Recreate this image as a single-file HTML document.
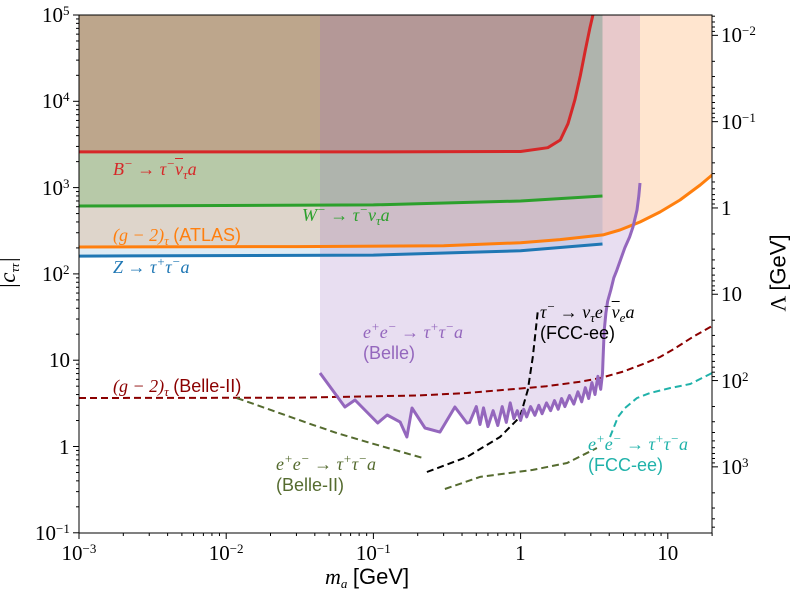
<!DOCTYPE html>
<html><head><meta charset="utf-8">
<style>
body{margin:0;background:#fff;}
#wrap{position:relative;width:800px;height:600px;overflow:hidden;font-family:"Liberation Serif",serif;}
svg{position:absolute;left:0;top:0;}
.lbl{position:absolute;white-space:nowrap;font-size:18px;line-height:21px;}
.it{font-style:italic;}
.sf{font-family:"Liberation Sans",sans-serif;font-style:normal;}
.tk{position:absolute;font-size:21px;white-space:nowrap;line-height:22px;color:#000;}
sup{font-size:13px;vertical-align:7px;line-height:0;}
sub{font-size:13px;vertical-align:-4px;line-height:0;}
.ob{text-decoration:overline;}
</style></head><body>
<div id="wrap">
<svg id="svg" width="800" height="600"></svg>

<div class="lbl it" style="left:113px;top:159px;color:#d62728">B<sup>−</sup> → τ<sup>−</sup><span class="ob">ν</span><sub>τ</sub>a</div>
<div class="lbl it" style="left:302px;top:205px;color:#2ca02c">W<sup>−</sup> → τ<sup>−</sup><span class="ob">ν</span><sub>τ</sub>a</div>
<div class="lbl" style="left:113px;top:225px;color:#ff7f0e"><span class="it">(g − 2)<sub>τ</sub></span> <span class="sf">(ATLAS)</span></div>
<div class="lbl it" style="left:113px;top:257px;color:#1f77b4">Z → τ<sup>+</sup>τ<sup>−</sup>a</div>
<div class="lbl" style="left:363px;top:322px;color:#9467bd"><span class="it">e<sup>+</sup>e<sup>−</sup> → τ<sup>+</sup>τ<sup>−</sup>a</span><br><span class="sf">(Belle)</span></div>
<div class="lbl" style="left:540px;top:302px;color:#000"><span class="it">τ<sup>−</sup> → ν<sub>τ</sub>e<sup>−</sup><span class="ob">ν</span><sub>e</sub>a</span><br><span class="sf">(FCC-ee)</span></div>
<div class="lbl" style="left:113px;top:376px;color:#8b0000"><span class="it">(g − 2)<sub>τ</sub></span> <span class="sf">(Belle-II)</span></div>
<div class="lbl" style="left:276px;top:454px;color:#556b2f"><span class="it">e<sup>+</sup>e<sup>−</sup> → τ<sup>+</sup>τ<sup>−</sup>a</span><br><span class="sf">(Belle-II)</span></div>
<div class="lbl" style="left:588px;top:434px;color:#20b2aa"><span class="it">e<sup>+</sup>e<sup>−</sup> → τ<sup>+</sup>τ<sup>−</sup>a</span><br><span class="sf">(FCC-ee)</span></div>

<div class="tk" style="left:325px;top:566px;font-size:22px"><span class="it">m<sub>a</sub></span> <span class="sf">[GeV]</span></div>
<div class="tk" style="left:-8px;top:262px;font-size:23px;transform:rotate(-90deg);transform-origin:center"><span class="it">|c<sub>ττ</sub>|</span></div>
<div class="tk" style="left:740px;top:262px;font-size:22px;transform:rotate(-90deg);transform-origin:center">Λ <span class="sf">[GeV]</span></div>
<div id="ticks"></div>
</div>
<script>
// ---- data ----
const xTickVals=[0.001,0.01,0.1,1,10];
const xTickLabels=["10<sup>−3</sup>","10<sup>−2</sup>","10<sup>−1</sup>","1","10"];
const yTickVals=[0.1,1,10,100,1000,10000,100000];
const yTickLabels=["10<sup>−1</sup>","1","10","10<sup>2</sup>","10<sup>3</sup>","10<sup>4</sup>","10<sup>5</sup>"];
const lamTickVals=[0.01,0.1,1,10,100,1000];
const lamTickLabels=["10<sup>−2</sup>","10<sup>−1</sup>","1","10","10<sup>2</sup>","10<sup>3</sup>"];
const lamScale=581;

const redM=[0.001,0.1,1,1.53,1.86,2.1,2.34,2.55,2.75,2.95,3.1];
const redC=[2590,2590,2620,2900,3560,5500,10400,20000,39000,70000,100000];
const greenM=[0.001,0.1,1,3.6];
const greenC=[612,630,700,800];
const orangeM=[0.001,0.03,0.3,1,1.85,3.63,4.73,6.47,8.85,12.1,16.6,20];
const orangeC=[205,207,212,230,250,283,323,399,521,718,1072,1400];
const blueM=[0.001,0.1,1,3.6];
const blueC=[161,165,185,222];
const belleM=[0.0434,0.064,0.075,0.107,0.124,0.152,0.169,0.183,0.224,0.283,0.358,0.432,0.45,0.5,0.53,0.56,0.6,0.65,0.7,0.75,0.8,0.85,0.9,0.95,1.0,1.05,1.1,1.17,1.25,1.33,1.4,1.5,1.6,1.7,1.8,1.9,2.0,2.15,2.3,2.45,2.6,2.75,2.9,3.05,3.2,3.35,3.5,3.6,3.63,3.7,3.8,3.9,4.1,4.3,4.5,4.8,5.1,5.5,5.8,6.18,6.35,6.47];
const belleC=[7.1,2.87,3.46,1.87,2.32,1.92,1.29,2.79,1.64,1.47,2.87,1.87,1.9,2.9,1.8,2.8,1.7,2.6,1.75,2.9,1.9,3.2,2.1,2.6,2.0,2.7,2.2,2.9,2.3,3.0,2.4,3.2,2.6,3.4,2.7,3.6,2.9,3.9,3.1,4.3,3.3,4.8,3.6,5.5,4.0,6.5,4.6,7,10,22,35,48,65,90,110,150,200,268,350,550,800,1130];
const fccTauM=[0.231,0.432,0.725,0.99,1.12,1.21,1.31];
const fccTauC=[0.506,0.755,1.29,2.2,4.52,10.9,38];
const g2M=[0.001,0.03,0.2,0.43,1,1.5,2.5,3.46,5,7,8.85,11,14.8,20];
const g2C=[3.65,3.68,3.9,4.17,4.7,5,5.6,6.2,7.4,9.2,10.9,13.5,18.6,24.9];
const b2aM=[0.0118,0.0389,0.0566,0.0949,0.217];
const b2aC=[3.65,1.78,1.43,1.10,0.736];
const b2bM=[0.306,0.53,1.21,2.07,3.3];
const b2bC=[0.322,0.444,0.535,0.644,0.962];
const fccM=[4.05,4.59,5.12,6.18,7.57,10.4,14.2,20];
const fccC=[1.29,2.2,2.79,3.65,4.17,4.76,5.3,7.1];

// ---- axes ----
const L=79,R=712,T=15,B=533;
const X=m=>L+(Math.log10(m)+3)*147.2;
const Y=c=>T+(5-Math.log10(c))*86.3;
const svg=document.getElementById('svg');
const NS='http://www.w3.org/2000/svg';
function mk(tag,attrs,parent){const e=document.createElementNS(NS,tag);for(const k in attrs)e.setAttribute(k,attrs[k]);(parent||svg).appendChild(e);return e;}
const defs=mk('defs',{});
const cp=mk('clipPath',{id:'clip'},defs);mk('rect',{x:L,y:T,width:R-L,height:B-T},cp);
const g=mk('g',{'clip-path':'url(#clip)'});
function pts(M,C){return M.map((m,i)=>X(m).toFixed(1)+','+Y(C[i]).toFixed(1));}
function fillAbove(M,C,col,op,name){
  const p=pts(M,C);p.push(X(M[M.length-1]).toFixed(1)+','+(T-5));p.push(X(M[0]).toFixed(1)+','+(T-5));
  const e=mk('polygon',{points:p.join(' '),fill:col,'fill-opacity':op},g);
  
  
}
function line(M,C,col,w,dash,name){
  const e=mk('polyline',{points:pts(M,C).join(' '),fill:'none',stroke:col,'stroke-width':w,'stroke-linejoin':'round'},g);
  if(dash)e.setAttribute('stroke-dasharray',dash);
  
  
}
fillAbove(orangeM,orangeC,'#ff7f0e',0.2,'atlas-region');
fillAbove(blueM,blueC,'#1f77b4',0.15,'z-region');
fillAbove(greenM,greenC,'#2ca02c',0.22,'w-region');
fillAbove(redM,redC,'#d62728',0.22,'b-region');
fillAbove(belleM,belleC,'#9467bd',0.22,'belle-region');
line(redM,redC,'#d62728',3,null,'b-decay-line');
line(greenM,greenC,'#2ca02c',3,null,'w-decay-line');
line(orangeM,orangeC,'#ff7f0e',3,null,'atlas-line');
line(blueM,blueC,'#1f77b4',3,null,'z-decay-line');
line(g2M,g2C,'#8b0000',2,'7,4','g2-belle2-line');
line(b2aM,b2aC,'#556b2f',2,'7,4','belle2-line-a');
line(b2bM,b2bC,'#556b2f',2,'7,4','belle2-line-b');
line(fccM,fccC,'#20b2aa',2,'7,4','fcc-ee-line');
line(fccTauM,fccTauC,'#000',2,'7,4','fcc-tau-line');
line(belleM,belleC,'#9467bd',3,null,'belle-line');

const fr=mk('rect',{x:L,y:T,width:R-L,height:B-T,fill:'none',stroke:'#000','stroke-width':1});


// ticks
const tk=document.getElementById('ticks');
function addLabel(html,x,y,align,name){
  const d=document.createElement('div');d.className='tk';d.innerHTML=html;
  
  
  tk.appendChild(d);
  const w=d.offsetWidth,h=d.offsetHeight;
  let lx=align==='center'?x-w/2:(align==='right'?x-w:x);
  d.style.left=lx+'px';d.style.top=(y-h/2)+'px';
}
for(let d=-3;d<=1;d++)for(let k=1;k<10;k++){const m=k*Math.pow(10,d);if(m>20.01)continue;const x=X(m);mk('line',{x1:x,x2:x,y1:B,y2:B+(k===1?6:3),stroke:'#000','stroke-width':1});}
xTickVals.forEach((v,i)=>addLabel(xTickLabels[i],X(v),B+20,'center','x-tick-label'));
for(let d=-1;d<=4;d++)for(let k=1;k<10;k++){const c=k*Math.pow(10,d);const y=Y(c);mk('line',{x1:L,x2:L-(k===1?6:3),y1:y,y2:y,stroke:'#000','stroke-width':1});}
mk('line',{x1:L,x2:L-6,y1:T,y2:T,stroke:'#000','stroke-width':1});
yTickVals.forEach((v,i)=>addLabel(yTickLabels[i],L-9,Y(v),'right','y-tick-label'));
for(let d=-3;d<=3;d++)for(let k=1;k<10;k++){const lam=k*Math.pow(10,d);const c=lamScale/lam;if(c<0.1||c>100000)continue;const y=Y(c);mk('line',{x1:R,x2:R+(k===1?6:3),y1:y,y2:y,stroke:'#000','stroke-width':1});}
lamTickVals.forEach((v,i)=>addLabel(lamTickLabels[i],R+9,Y(lamScale/v),'left','lambda-tick-label'));
</script>
</body></html>
